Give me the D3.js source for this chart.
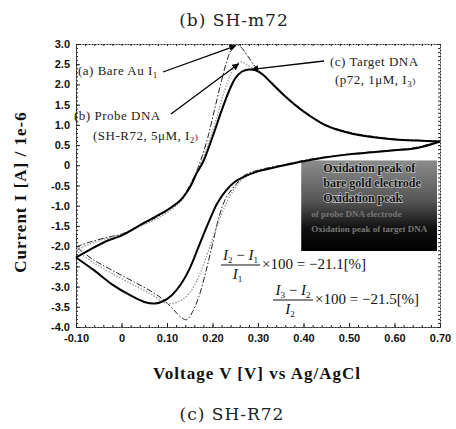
<!DOCTYPE html>
<html>
<head>
<meta charset="utf-8">
<script src="https://cdn.jsdelivr.net/npm/d3@7/dist/d3.min.js"></script>
<style>
body { margin: 0; background: #fff; }
svg { display: block; }
.axis .tick text { font-family: "Liberation Sans Narrow", "Liberation Sans", Arial, sans-serif; font-weight: bold; font-size: 11px; fill: #111; }
.axis path, .axis line { stroke: #222; }
.axis path { stroke-dasharray: 2,1; }
.serif { font-family: "Liberation Serif", "Times New Roman", serif; }
.wide { font-family: "DejaVu Serif", serif; }
</style>
</head>
<body>
<div id="chart"></div>
<script>
// axis ticks
const xTicks = [-0.10, 0, 0.10, 0.20, 0.30, 0.40, 0.50, 0.60, 0.70]
const xTickLabels = ['-0.10', '0', '0.10', '0.20', '0.30', '0.40', '0.50', '0.60', '0.70']
const yTicks = [3.0, 2.5, 2.0, 1.5, 1.0, 0.5, 0, -0.5, -1.0, -1.5, -2.0, -2.5, -3.0, -3.5, -4.0]
const yTickLabels = ['3.0', '2.5', '2.0', '1.5', '1.0', '0.5', '0', '-0.5', '-1.0', '-1.5', '-2.0', '-2.5', '-3.0', '-3.5', '-4.0']

// (a) bare Au electrode, [V, I(uA)], anodic scan then cathodic scan
const bareAuFwd = [[-0.10,-2.02],[-0.07,-1.90],[-0.03,-1.78],[0.00,-1.70],[0.05,-1.44],[0.10,-1.13],[0.13,-0.86],[0.15,-0.50],[0.165,-0.15],[0.175,0.15],[0.19,0.70],[0.205,1.40],[0.22,2.10],[0.235,2.70],[0.245,2.93],[0.253,2.98],[0.262,2.93],[0.275,2.74],[0.29,2.50],[0.305,2.30],[0.33,2.05],[0.36,1.72],[0.40,1.35],[0.45,1.00],[0.50,0.82],[0.55,0.72],[0.60,0.65],[0.65,0.62],[0.70,0.60]]
const bareAuRev = [[0.70,0.60],[0.65,0.45],[0.60,0.38],[0.55,0.33],[0.50,0.28],[0.45,0.21],[0.40,0.12],[0.35,0.00],[0.30,-0.12],[0.27,-0.25],[0.25,-0.50],[0.23,-0.80],[0.215,-1.25],[0.20,-1.95],[0.185,-2.65],[0.17,-3.25],[0.155,-3.65],[0.143,-3.82],[0.13,-3.75],[0.115,-3.58],[0.095,-3.35],[0.07,-3.15],[0.03,-2.90],[-0.02,-2.60],[-0.06,-2.35],[-0.10,-2.02]]

// (b) probe DNA SH-R72 5uM
const probeFwd = [[-0.10,-2.10],[-0.07,-1.95],[-0.03,-1.80],[0.00,-1.71],[0.05,-1.47],[0.10,-1.17],[0.13,-0.90],[0.15,-0.55],[0.165,-0.18],[0.178,0.15],[0.19,0.50],[0.21,1.20],[0.225,1.80],[0.24,2.25],[0.252,2.48],[0.262,2.56],[0.272,2.52],[0.285,2.42],[0.30,2.32],[0.33,2.03],[0.36,1.71],[0.40,1.34],[0.45,0.99],[0.50,0.81],[0.55,0.71],[0.60,0.64],[0.65,0.61],[0.70,0.60]]
const probeRev = [[0.70,0.60],[0.65,0.44],[0.60,0.37],[0.55,0.32],[0.50,0.27],[0.45,0.20],[0.40,0.11],[0.35,-0.01],[0.30,-0.14],[0.27,-0.30],[0.25,-0.55],[0.23,-0.95],[0.21,-1.50],[0.19,-2.15],[0.17,-2.75],[0.15,-3.15],[0.13,-3.35],[0.11,-3.42],[0.095,-3.40],[0.07,-3.22],[0.03,-2.98],[-0.02,-2.68],[-0.06,-2.42],[-0.10,-2.10]]

// (c) target DNA p72 1uM
const targetFwd = [[-0.10,-2.28],[-0.07,-2.09],[-0.03,-1.86],[0.00,-1.74],[0.05,-1.42],[0.10,-1.11],[0.13,-0.86],[0.15,-0.55],[0.165,-0.20],[0.18,0.10],[0.20,0.70],[0.22,1.35],[0.235,1.80],[0.25,2.15],[0.265,2.32],[0.28,2.37],[0.295,2.35],[0.31,2.25],[0.33,2.03],[0.36,1.70],[0.40,1.33],[0.45,0.98],[0.50,0.80],[0.55,0.70],[0.60,0.64],[0.65,0.61],[0.70,0.59]]
const targetRev = [[0.70,0.59],[0.65,0.43],[0.60,0.37],[0.55,0.32],[0.50,0.27],[0.45,0.20],[0.40,0.10],[0.35,-0.02],[0.30,-0.15],[0.27,-0.28],[0.25,-0.40],[0.23,-0.62],[0.21,-0.95],[0.19,-1.45],[0.17,-2.00],[0.15,-2.55],[0.13,-2.95],[0.11,-3.22],[0.09,-3.37],[0.074,-3.42],[0.05,-3.38],[0.02,-3.22],[-0.02,-2.95],[-0.06,-2.60],[-0.10,-2.28]]

const legendLines = ['Oxidation peak of', 'bare gold electrode', 'Oxidation peak', 'of probe DNA electrode', 'Oxidation peak of target DNA']

const W = 456, H = 429
const margin = { top: 44, right: 16, bottom: 102, left: 76 }
const width = W - margin.left - margin.right
const height = H - margin.top - margin.bottom

const svg = d3.select('#chart').append('svg')
    .attr('width', W)
    .attr('height', H)

const defs = svg.append('defs')
defs.append('marker')
    .attr('id', 'arrow')
    .attr('viewBox', '0 0 10 10')
    .attr('refX', 9).attr('refY', 5)
    .attr('markerWidth', 7).attr('markerHeight', 7)
    .attr('markerUnits', 'userSpaceOnUse')
    .attr('orient', 'auto')
    .append('path').attr('d', 'M0,0L10,5L0,10z').attr('fill', '#000')
const grad = defs.append('linearGradient')
    .attr('id', 'boxGrad').attr('x1', 0).attr('y1', 0).attr('x2', 0).attr('y2', 1)
grad.append('stop').attr('offset', '0%').attr('stop-color', '#8c8c8c')
grad.append('stop').attr('offset', '45%').attr('stop-color', '#555')
grad.append('stop').attr('offset', '75%').attr('stop-color', '#111')
grad.append('stop').attr('offset', '100%').attr('stop-color', '#000')

// titles
svg.append('text').attr('class', 'wide')
    .attr('x', 234).attr('y', 26).attr('text-anchor', 'middle')
    .attr('font-size', 17).attr('letter-spacing', 1).attr('fill', '#222')
    .text('(b) SH-m72')
svg.append('text').attr('class', 'wide')
    .attr('x', 232).attr('y', 420).attr('text-anchor', 'middle')
    .attr('font-size', 17).attr('letter-spacing', 1).attr('fill', '#222')
    .text('(c) SH-R72')
svg.append('text').attr('class', 'serif')
    .attr('x', 257).attr('y', 379).attr('text-anchor', 'middle')
    .attr('font-size', 17).attr('letter-spacing', 1).attr('font-weight', 'bold').attr('fill', '#111')
    .text('Voltage V [V] vs Ag/AgCl')
svg.append('text').attr('class', 'serif')
    .attr('transform', 'translate(26,192) rotate(-90)').attr('text-anchor', 'middle')
    .attr('font-size', 17).attr('letter-spacing', 1).attr('font-weight', 'bold').attr('fill', '#111')
    .text('Current I [A] / 1e-6')

const g = svg.append('g').attr('transform', `translate(${margin.left},${margin.top})`)

const x = d3.scaleLinear().domain([-0.10, 0.70]).range([0, width])
const y = d3.scaleLinear().domain([-4.0, 3.0]).range([height, 0])

// minor ticks
const xMinor = d3.range(-0.10, 0.7001, 0.02)
const yMinor = d3.range(-4.0, 3.001, 0.1)

g.append('g').attr('class', 'axis')
    .call(d3.axisTop(x).tickValues(xMinor).tickSize(-2).tickSizeOuter(0).tickFormat(''))
g.append('g').attr('class', 'axis')
    .attr('transform', `translate(${width},0)`)
    .call(d3.axisRight(y).tickValues(yMinor).tickSize(-2).tickSizeOuter(0).tickFormat(''))
g.append('g').attr('class', 'axis')
    .attr('transform', `translate(0,${height})`)
    .call(d3.axisBottom(x).tickValues(xMinor).tickSize(-2).tickSizeOuter(0).tickFormat(''))
g.append('g').attr('class', 'axis')
    .call(d3.axisLeft(y).tickValues(yMinor).tickSize(-2).tickSizeOuter(0).tickFormat(''))

g.append('g').attr('class', 'axis')
    .attr('transform', `translate(0,${height})`)
    .call(d3.axisBottom(x).tickValues(xTicks).tickSize(-4).tickSizeOuter(0).tickPadding(7)
        .tickFormat((d, i) => xTickLabels[i]))
g.append('g').attr('class', 'axis')
    .call(d3.axisLeft(y).tickValues(yTicks).tickSize(-4).tickSizeOuter(0).tickPadding(6)
        .tickFormat((d, i) => yTickLabels[i]))

// legend box (dark, mostly unreadable in the original)
const box = g.append('g').attr('transform', `translate(${x(0.395)},${y(0.12)})`)
box.append('rect').attr('width', x(0.70) - x(0.395) - 3).attr('height', y(-2.12) - y(0.12))
    .attr('fill', 'url(#boxGrad)')
box.selectAll('text').data(legendLines).join('text')
    .attr('class', 'serif')
    .attr('x', (d, i) => i < 3 ? 22 : 10)
    .attr('y', (d, i) => 12 + i * 15)
    .attr('font-size', (d, i) => i < 3 ? 12 : 9)
    .attr('font-weight', 'bold')
    .attr('fill', (d, i) => i < 3 ? '#111' : '#777')
    .attr('stroke', (d, i) => i < 3 ? '#c4c4c4' : 'none')
    .attr('stroke-width', 1.3)
    .attr('paint-order', 'stroke')
    .text(d => d)

// curves
const line = d3.line().x(d => x(d[0])).y(d => y(d[1])).curve(d3.curveCatmullRom.alpha(0.5))
const series = [
    { fwd: bareAuFwd, rev: bareAuRev, stroke: '#222', w: 1, dash: '6,2,1.5,2' },
    { fwd: probeFwd, rev: probeRev, stroke: '#999', w: 1.3, dash: '1.5,1.5' },
    { fwd: targetFwd, rev: targetRev, stroke: '#000', w: 2, dash: null },
]
series.forEach(s => {
    [s.fwd, s.rev].forEach(pts => {
        g.append('path')
            .attr('d', line(pts))
            .attr('fill', 'none')
            .attr('stroke', s.stroke)
            .attr('stroke-width', s.w)
            .attr('stroke-dasharray', s.dash)
    })
})

// annotations
const peak = pts => d3.greatest(pts, d => d[1])
function label(parent, px, py, parts) {
    const t = parent.append('text').attr('class', 'serif')
        .attr('x', px).attr('y', py).attr('font-size', 13).attr('letter-spacing', 0.5).attr('fill', '#222')
    parts.forEach(p => {
        if (typeof p === 'string') t.append('tspan').text(p)
        else t.append('tspan').attr('font-size', 9).attr('dy', p.dy).text(p.t)
    })
    return t
}
const pa = peak(bareAuFwd), pb = peak(probeFwd), pc = peak(targetFwd)
g.append('line').attr('x1', 87).attr('y1', 28).attr('x2', x(pa[0]) - 1).attr('y2', y(pa[1]) + 1)
    .attr('stroke', '#000').attr('stroke-width', 1.3).attr('marker-end', 'url(#arrow)')
g.append('line').attr('x1', 95).attr('y1', 70).attr('x2', x(pb[0]) - 2).attr('y2', y(pb[1]) + 2)
    .attr('stroke', '#000').attr('stroke-width', 1.3).attr('marker-end', 'url(#arrow)')
g.append('line').attr('x1', 248).attr('y1', 17).attr('x2', x(pc[0]) + 3).attr('y2', y(pc[1]))
    .attr('stroke', '#000').attr('stroke-width', 1.3).attr('marker-end', 'url(#arrow)')

label(g, 2, 31, ['(a) Bare Au I', { t: '1', dy: 3 }])
label(g, -2, 76, ['(b) Probe DNA'])
label(g, 17, 96, ['(SH-R72, 5\u03bcM, I', { t: '2', dy: 3 }, { t: ')', dy: -3 }])
label(g, 254, 22, ['(c) Target DNA'])
label(g, 259, 40, ['(p72, 1\u03bcM, I', { t: '3', dy: 3 }, { t: ')', dy: -3 }])

// formulas (absolute svg coordinates)
function formula(barY, x0, x1, num, den, rest) {
    const f = svg.append('g').attr('class', 'serif').attr('font-size', 15).attr('fill', '#111')
    const n = f.append('text').attr('x', (x0 + x1) / 2).attr('y', barY - 5).attr('text-anchor', 'middle')
    n.append('tspan').attr('font-style', 'italic').text('I')
    n.append('tspan').attr('font-size', 9).attr('dy', 3).text(num[0])
    n.append('tspan').attr('dy', -3).text(' \u2212 ')
    n.append('tspan').attr('font-style', 'italic').text('I')
    n.append('tspan').attr('font-size', 9).attr('dy', 3).text(num[1])
    f.append('line').attr('x1', x0).attr('x2', x1).attr('y1', barY).attr('y2', barY)
        .attr('stroke', '#111').attr('stroke-width', 1)
    const d = f.append('text').attr('x', (x0 + x1) / 2 - 3).attr('y', barY + 14).attr('text-anchor', 'middle')
    d.append('tspan').attr('font-style', 'italic').text('I')
    d.append('tspan').attr('font-size', 9).attr('dy', 3).text(den)
    f.append('text').attr('x', x1 + 2).attr('y', barY + 4).text(rest)
}
formula(265, 221, 260, ['2', '1'], '1', '\u00d7100 = \u221221.1[%]')
formula(300, 273, 313, ['3', '2'], '2', '\u00d7100 = \u221221.5[%]')
</script>
</body>
</html>
